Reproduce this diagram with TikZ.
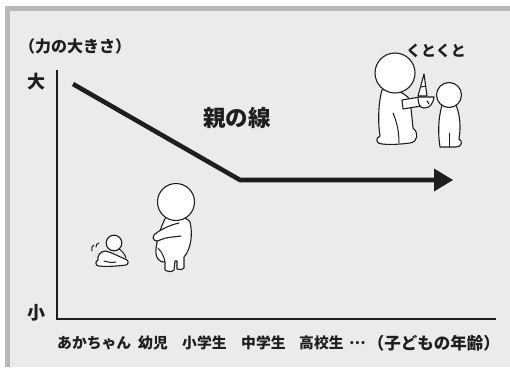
\documentclass[tikz,border=0pt]{standalone}
\usepackage{fontspec}
\newfontfamily\jp{Noto Sans CJK JP}
\usetikzlibrary{arrows.meta}
\definecolor{panel}{HTML}{EBEBEB}
\definecolor{rim}{HTML}{B8B8B8}
\definecolor{ink}{HTML}{1E1E1E}
\tikzset{
  lbl/.style={font=\jp\bfseries\fontsize{16}{18}\selectfont, text=ink, inner sep=0pt},
  axislbl/.style={font=\jp\bfseries\fontsize{18}{20}\selectfont, text=ink, inner sep=0pt},
  agelbl/.style={font=\jp\bfseries\fontsize{14.8}{16}\selectfont, text=ink, inner sep=0pt, anchor=west},
  axis/.style={draw=ink, line width=1.6pt},
  parentline/.style={draw=ink, line width=4.6pt},
  fig/.style={draw=ink, fill=white, line width=1.1pt, line join=round, line cap=round},
  figline/.style={draw=ink, line width=1pt, line cap=round}
}
\begin{document}
\begin{tikzpicture}[x=1pt, y=-1pt]
\useasboundingbox (0,0) rectangle (510,367);
% frame: gray rim on the top and left, light panel
\fill[white] (0,0) rectangle (510,367);
\fill[rim] (5,6) rectangle (510,367);
\fill[panel] (10,11) rectangle (510,367);

% axes
\coordinate (ytop) at (57,70);
\coordinate (orig) at (57,319);
\coordinate (xend) at (496,319);
\draw[axis] (ytop) -- (orig) -- (xend);

% axis captions
\node[lbl, anchor=west] (force) at (19,46) {（力の大きさ）};
\node[axislbl] (big) at (36,82) {大};
\node[axislbl] (small) at (36,313) {小};

% the parent's line
\coordinate (p0) at (73,84);
\coordinate (p1) at (240,180);
\coordinate (p2) at (453,180);
\draw[parentline, line join=miter] (p0) -- (p1) -- ([xshift=-12pt]p2);
\fill[ink] (p2) -- (434,168.5) -- (434,191.5) -- cycle;
\node[font=\jp\bfseries\fontsize{22.5}{25}\selectfont, text=ink, inner sep=0pt] (pl) at (237,118) {親の線};

% age labels
\node[agelbl] (a1) at (57,343) {あかちゃん};
\node[agelbl] (a2) at (138,343) {幼児};
\node[agelbl] (a3) at (182,343) {小学生};
\node[agelbl] (a4) at (241,343) {中学生};
\node[agelbl] (a5) at (299,343) {高校生};
\node[agelbl] (a6) at (349,343) {…};
\node[agelbl, anchor=east, font=\jp\bfseries\fontsize{16.5}{18}\selectfont] (a7) at (500,343) {（子どもの年齢）};

% baby crawling
\draw[figline] (92,251) .. controls (91,248) and (92,246) .. (94,245);
\draw[figline] (96,247) .. controls (96,245) and (97,243) .. (99,243);
\draw[fig] (106,251) .. controls (100,251) and (97,256) .. (98,260)
  .. controls (95,261) and (95,266) .. (99,266)
  .. controls (106,267) and (118,266) .. (126,265)
  .. controls (129,264) and (129,260) .. (125,259)
  .. controls (120,257) and (113,253) .. cycle;
\draw[figline] (104,261) .. controls (108,262) and (112,263) .. (116,262);
\draw[fig] (114,243) circle[radius=7.8];
\draw[figline] (119,249) .. controls (122,251) and (125,254) .. (126,258);

% toddler standing, seen from behind
\draw[fig] (166,217) .. controls (160,228) and (157,240) .. (156,249)
  .. controls (155,258) and (160,263) .. (165,262)
  -- (165,270) .. controls (168,272) and (172,272) .. (174,270) -- (175,261)
  -- (177,261) -- (177,269) .. controls (180,270) and (183,270) .. (184,268) -- (184,257)
  .. controls (191,249) and (193,234) .. (190,222)
  .. controls (187,217) and (175,215) .. cycle;
\draw[fig] (179,223) .. controls (170,225) and (159,230) .. (154,235)
  .. controls (151,239) and (156,243) .. (160,240)
  .. controls (166,237) and (174,237) .. (181,236);
\draw[figline] (158,248) .. controls (162,252) and (164,257) .. (165,262);
\draw[fig] (176,202) circle[radius=18.5];

% parent sitting with a bowl
\draw[fig] (382,90) .. controls (378,104) and (378,124) .. (380,136)
  .. controls (375,138) and (376,144) .. (382,144)
  .. controls (392,145) and (402,144) .. (410,143)
  .. controls (418,142) and (419,133) .. (413,128)
  .. controls (412,118) and (411,108) .. (410,100)
  .. controls (405,92) and (392,88) .. cycle;
\draw[figline] (393,113) .. controls (397,122) and (399,132) .. (399,143);
\draw[fig] (402,100) -- (420,97) -- (421,106) -- (403,109) -- cycle;
\draw[fig] (418,96) -- (424,74) -- (427,96) -- cycle;
\draw[figline] (421,87) -- (426,86);
\draw[fig] (418,97) -- (434,97) .. controls (433,104) and (430,108) .. (424,108)
  .. controls (420,108) and (418,104) .. cycle;
\draw[figline] (427,101) -- (429,104);
\draw[fig] (395,73) circle[radius=20];

% child facing the parent
\draw[fig] (442,105) .. controls (438,119) and (438,134) .. (440,147)
  -- (456,147) .. controls (462,147) and (463,141) .. (459,139)
  .. controls (461,127) and (460,115) .. (456,105) -- cycle;
\draw[figline] (449,133) -- (449,147);
\draw[fig] (449,95) circle[radius=12.5];
\node[lbl, font=\jp\bfseries\fontsize{15}{17}\selectfont] (sound) at (436,51) {くとくと};
\end{tikzpicture}
\end{document}
